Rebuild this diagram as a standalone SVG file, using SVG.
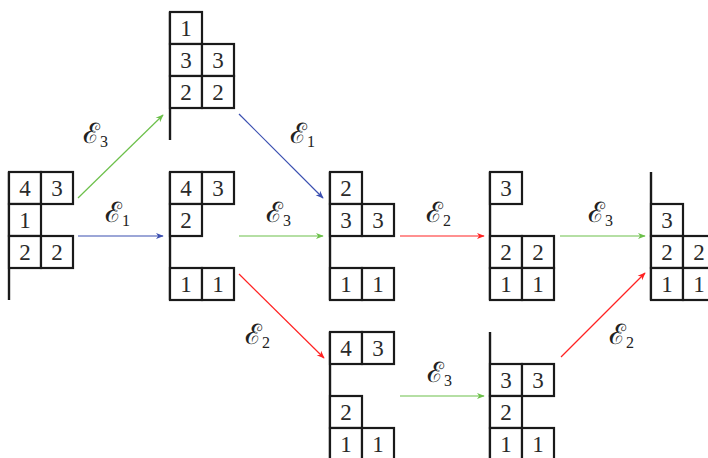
<svg xmlns="http://www.w3.org/2000/svg" width="708" height="458" viewBox="0 0 708 458">
<style>
.c{fill:#fff;stroke:#1a1a1a;stroke-width:2.2}
.v{stroke:#1a1a1a;stroke-width:2.4;fill:none}
.n{font-family:"Liberation Serif",serif;font-size:23px;fill:#2a2a2a;text-anchor:middle}
.l{font-family:"DejaVu Serif","Liberation Serif",serif;font-size:28px;fill:#222}
.s{font-family:"Liberation Serif",serif;font-size:16px}
.g{stroke:#6cc04a;stroke-width:1.2;fill:none}
.b{stroke:#3b4fb0;stroke-width:1.2;fill:none}
.r{stroke:#f22;stroke-width:1.2;fill:none}
</style>
<defs>
<marker id="mg" viewBox="0 0 10 10" refX="9" refY="5" markerWidth="8" markerHeight="8" markerUnits="userSpaceOnUse" orient="auto"><path d="M0,1 L10,5 L0,9 L3,5 z" fill="#6cc04a"/></marker>
<marker id="mb" viewBox="0 0 10 10" refX="9" refY="5" markerWidth="8" markerHeight="8" markerUnits="userSpaceOnUse" orient="auto"><path d="M0,1 L10,5 L0,9 L3,5 z" fill="#3b4fb0"/></marker>
<marker id="mr" viewBox="0 0 10 10" refX="9" refY="5" markerWidth="8" markerHeight="8" markerUnits="userSpaceOnUse" orient="auto"><path d="M0,1 L10,5 L0,9 L3,5 z" fill="#f22"/></marker>
</defs>
<rect width="708" height="458" fill="#fff"/>
<g id="connectors">
<line class="g" x1="78" y1="198" x2="163" y2="115" marker-end="url(#mg)"/>
<line class="b" x1="78" y1="236" x2="163" y2="236" marker-end="url(#mb)"/>
<line class="b" x1="239" y1="114" x2="323" y2="198" marker-end="url(#mb)"/>
<line class="g" x1="239" y1="236" x2="323" y2="236" marker-end="url(#mg)"/>
<line class="r" x1="239" y1="274" x2="324" y2="358" marker-end="url(#mr)"/>
<line class="r" x1="400" y1="236" x2="484" y2="236" marker-end="url(#mr)"/>
<line class="g" x1="560" y1="236" x2="645" y2="236" marker-end="url(#mg)"/>
<line class="g" x1="400" y1="396" x2="484" y2="396" marker-end="url(#mg)"/>
<line class="r" x1="561" y1="357" x2="645" y2="273" marker-end="url(#mr)"/>
<text class="l" x="83" y="143">ℰ<tspan class="s" dy="4">3</tspan></text>
<text class="l" x="105" y="222">ℰ<tspan class="s" dy="4">1</tspan></text>
<text class="l" x="290" y="143">ℰ<tspan class="s" dy="4">1</tspan></text>
<text class="l" x="266" y="222">ℰ<tspan class="s" dy="4">3</tspan></text>
<text class="l" x="245" y="344">ℰ<tspan class="s" dy="4">2</tspan></text>
<text class="l" x="426" y="222">ℰ<tspan class="s" dy="4">2</tspan></text>
<text class="l" x="588" y="222">ℰ<tspan class="s" dy="4">3</tspan></text>
<text class="l" x="427" y="382">ℰ<tspan class="s" dy="4">3</tspan></text>
<text class="l" x="609" y="344">ℰ<tspan class="s" dy="4">2</tspan></text>
</g>
<g id="t0">
<line class="v" x1="9" y1="172" x2="9" y2="300"/>
<rect class="c" x="9" y="172" width="32" height="32"/><rect class="c" x="41" y="172" width="32" height="32"/>
<rect class="c" x="9" y="204" width="32" height="32"/>
<rect class="c" x="9" y="236" width="32" height="32"/><rect class="c" x="41" y="236" width="32" height="32"/>
<text class="n" x="25" y="196">4</text><text class="n" x="57" y="196">3</text>
<text class="n" x="25" y="228">1</text>
<text class="n" x="25" y="260">2</text><text class="n" x="57" y="260">2</text>
</g>
<g id="t1">
<line class="v" x1="170" y1="12" x2="170" y2="140"/>
<rect class="c" x="170" y="12" width="32" height="32"/>
<rect class="c" x="170" y="44" width="32" height="32"/><rect class="c" x="202" y="44" width="32" height="32"/>
<rect class="c" x="170" y="76" width="32" height="32"/><rect class="c" x="202" y="76" width="32" height="32"/>
<text class="n" x="186" y="36">1</text>
<text class="n" x="186" y="68">3</text><text class="n" x="218" y="68">3</text>
<text class="n" x="186" y="100">2</text><text class="n" x="218" y="100">2</text>
</g>
<g id="t2">
<line class="v" x1="170" y1="172" x2="170" y2="300"/>
<rect class="c" x="170" y="172" width="32" height="32"/><rect class="c" x="202" y="172" width="32" height="32"/>
<rect class="c" x="170" y="204" width="32" height="32"/>
<rect class="c" x="170" y="268" width="32" height="32"/><rect class="c" x="202" y="268" width="32" height="32"/>
<text class="n" x="186" y="196">4</text><text class="n" x="218" y="196">3</text>
<text class="n" x="186" y="228">2</text>
<text class="n" x="186" y="292">1</text><text class="n" x="218" y="292">1</text>
</g>
<g id="t3">
<line class="v" x1="330" y1="172" x2="330" y2="300"/>
<rect class="c" x="330" y="172" width="32" height="32"/>
<rect class="c" x="330" y="204" width="32" height="32"/><rect class="c" x="362" y="204" width="32" height="32"/>
<rect class="c" x="330" y="268" width="32" height="32"/><rect class="c" x="362" y="268" width="32" height="32"/>
<text class="n" x="346" y="196">2</text>
<text class="n" x="346" y="228">3</text><text class="n" x="378" y="228">3</text>
<text class="n" x="346" y="292">1</text><text class="n" x="378" y="292">1</text>
</g>
<g id="t4">
<line class="v" x1="490" y1="172" x2="490" y2="300"/>
<rect class="c" x="490" y="172" width="32" height="32"/>
<rect class="c" x="490" y="236" width="32" height="32"/><rect class="c" x="522" y="236" width="32" height="32"/>
<rect class="c" x="490" y="268" width="32" height="32"/><rect class="c" x="522" y="268" width="32" height="32"/>
<text class="n" x="506" y="196">3</text>
<text class="n" x="506" y="260">2</text><text class="n" x="538" y="260">2</text>
<text class="n" x="506" y="292">1</text><text class="n" x="538" y="292">1</text>
</g>
<g id="t5">
<line class="v" x1="651" y1="172" x2="651" y2="300"/>
<rect class="c" x="651" y="204" width="32" height="32"/>
<rect class="c" x="651" y="236" width="32" height="32"/><rect class="c" x="683" y="236" width="32" height="32"/>
<rect class="c" x="651" y="268" width="32" height="32"/><rect class="c" x="683" y="268" width="32" height="32"/>
<text class="n" x="667" y="228">3</text>
<text class="n" x="667" y="260">2</text><text class="n" x="699" y="260">2</text>
<text class="n" x="667" y="292">1</text><text class="n" x="699" y="292">1</text>
</g>
<g id="t6">
<line class="v" x1="330" y1="332" x2="330" y2="460"/>
<rect class="c" x="330" y="332" width="32" height="32"/><rect class="c" x="362" y="332" width="32" height="32"/>
<rect class="c" x="330" y="396" width="32" height="32"/>
<rect class="c" x="330" y="428" width="32" height="32"/><rect class="c" x="362" y="428" width="32" height="32"/>
<text class="n" x="346" y="356">4</text><text class="n" x="378" y="356">3</text>
<text class="n" x="346" y="420">2</text>
<text class="n" x="346" y="452">1</text><text class="n" x="378" y="452">1</text>
</g>
<g id="t7">
<line class="v" x1="490" y1="332" x2="490" y2="460"/>
<rect class="c" x="490" y="364" width="32" height="32"/><rect class="c" x="522" y="364" width="32" height="32"/>
<rect class="c" x="490" y="396" width="32" height="32"/>
<rect class="c" x="490" y="428" width="32" height="32"/><rect class="c" x="522" y="428" width="32" height="32"/>
<text class="n" x="506" y="388">3</text><text class="n" x="538" y="388">3</text>
<text class="n" x="506" y="420">2</text>
<text class="n" x="506" y="452">1</text><text class="n" x="538" y="452">1</text>
</g>
</svg>
